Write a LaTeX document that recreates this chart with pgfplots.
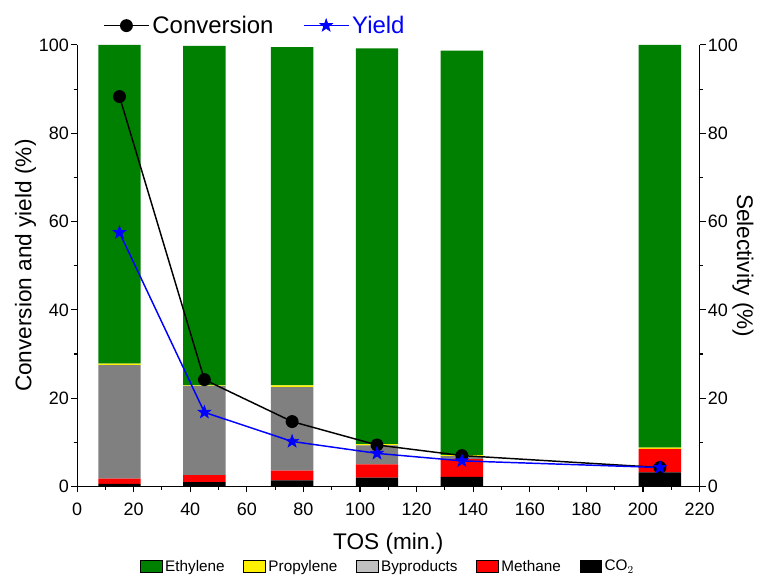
\documentclass[border=0pt]{standalone}
\usepackage{fontspec}
\setmainfont{Liberation Sans}
\usepackage{pgfplots}
\pgfplotsset{compat=1.18}
\definecolor{cgreen}{RGB}{0,128,0}
\definecolor{cgray}{RGB}{128,128,128}
\definecolor{clgray}{RGB}{192,192,192}
\pgfdeclareplotmark{fstar}{%
  \pgfpathmoveto{\pgfpointpolar{90}{\pgfplotmarksize}}%
  \pgfpathlineto{\pgfpointpolar{126}{0.4\pgfplotmarksize}}%
  \pgfpathlineto{\pgfpointpolar{162}{\pgfplotmarksize}}%
  \pgfpathlineto{\pgfpointpolar{198}{0.4\pgfplotmarksize}}%
  \pgfpathlineto{\pgfpointpolar{234}{\pgfplotmarksize}}%
  \pgfpathlineto{\pgfpointpolar{270}{0.4\pgfplotmarksize}}%
  \pgfpathlineto{\pgfpointpolar{306}{\pgfplotmarksize}}%
  \pgfpathlineto{\pgfpointpolar{342}{0.4\pgfplotmarksize}}%
  \pgfpathlineto{\pgfpointpolar{18}{\pgfplotmarksize}}%
  \pgfpathlineto{\pgfpointpolar{54}{0.4\pgfplotmarksize}}%
  \pgfpathclose
  \pgfusepathqfillstroke}
\begin{document}
\begin{tikzpicture}
\pgfplotsset{
  common/.style={
    scale only axis, width=468pt, height=332pt,
    xmin=0, xmax=220, ymin=0, ymax=100,
    /pgf/number format/assume math mode=true,
    tick label style={font=\fontsize{13.5}{15}\selectfont, inner sep=1.5pt},
    label style={font=\fontsize{17}{19}\selectfont},
    tick align=outside,
    major tick length=4.5pt, minor tick length=2.5pt,
    axis line style={line width=0.8pt},
    every tick/.style={black, line width=0.8pt},
  }
}
\begin{axis}[common,
  axis y line*=right, axis x line*=bottom,
  xtick={0,20,...,220}, minor x tick num=1,
  xticklabel style={yshift=-6.5pt},
  ytick={0,20,...,100}, minor y tick num=1,
  xlabel={TOS (min.)},
  xlabel shift=8pt,
  ylabel={Selectivity (\%)},
  ylabel style={rotate=180},
  ylabel shift=-9pt,
  ybar stacked, bar width=15,
  legend columns=5,
  legend style={draw=none, fill=none, at={(0.5,-0.157)}, anchor=north, inner sep=1pt,
    font=\fontsize{11.5}{13}\selectfont,
    /tikz/every even column/.append style={column sep=12pt}},
  legend image code/.code={\fill[#1] (0pt,-4.5pt) rectangle (16.5pt,4.5pt);},
]
\addplot[fill=black, draw=none, forget plot] coordinates {(15,0.6) (45,1.0) (76,1.4) (106,2.0) (136,2.2) (206,3.2)};
\addplot[fill=red, draw=none, forget plot] coordinates {(15,1.2) (45,1.6) (76,2.2) (106,3.0) (136,4.0) (206,5.3)};
\addplot[fill=cgray, draw=none, forget plot] coordinates {(15,25.7) (45,20.2) (76,18.9) (106,4.3) (136,0.7) (206,0.0)};
\addplot[fill=yellow, draw=none, forget plot] coordinates {(15,0.3) (45,0.1) (76,0.4) (106,0.3) (136,0.2) (206,0.3)};
\addplot[fill=cgreen, draw=none, forget plot] coordinates {(15,72.2) (45,76.9) (76,76.6) (106,89.6) (136,91.6) (206,91.2)};
\addlegendimage{fill=cgreen}
\addlegendentry{Ethylene}
\addlegendimage{fill=yellow}
\addlegendentry{Propylene}
\addlegendimage{fill=clgray}
\addlegendentry{Byproducts}
\addlegendimage{fill=red}
\addlegendentry{Methane}
\addlegendimage{fill=black}
\addlegendentry{CO$_2$}
\end{axis}
\begin{axis}[common,
  axis y line*=left, axis x line=none,
  ytick={0,20,...,100}, minor y tick num=1,
  ylabel={Conversion and yield (\%)},
  ylabel shift=-3pt,
  legend columns=2,
  legend style={draw=none, fill=none, at={(0.035,1.0)}, anchor=south west, yshift=3pt,
    font=\fontsize{18}{20}\selectfont,
    /tikz/every even column/.append style={column sep=20pt}},
  legend image code/.code={\draw[mark repeat=2,mark phase=2,#1] plot coordinates {(0pt,0pt) (17pt,0pt) (34pt,0pt)};},
]
\addplot[black, line width=1.1pt, mark=*, mark size=4.3pt] coordinates {(15,88.3) (45,24.2) (76,14.7) (106,9.4) (136,7.0) (206,4.3)};
\addlegendentry{Conversion}
\addplot[blue, line width=1.1pt, mark=fstar, mark size=5pt, mark options={fill=blue, line width=0.5pt}] coordinates {(15,57.5) (45,16.8) (76,10.2) (106,7.5) (136,5.8) (206,4.3)};
\addlegendentry{\textcolor{blue}{Yield}}
\end{axis}
\path (current bounding box.west) ++(-8pt,0);
\path (current bounding box.north) ++(0,8pt);
\end{tikzpicture}
\end{document}
